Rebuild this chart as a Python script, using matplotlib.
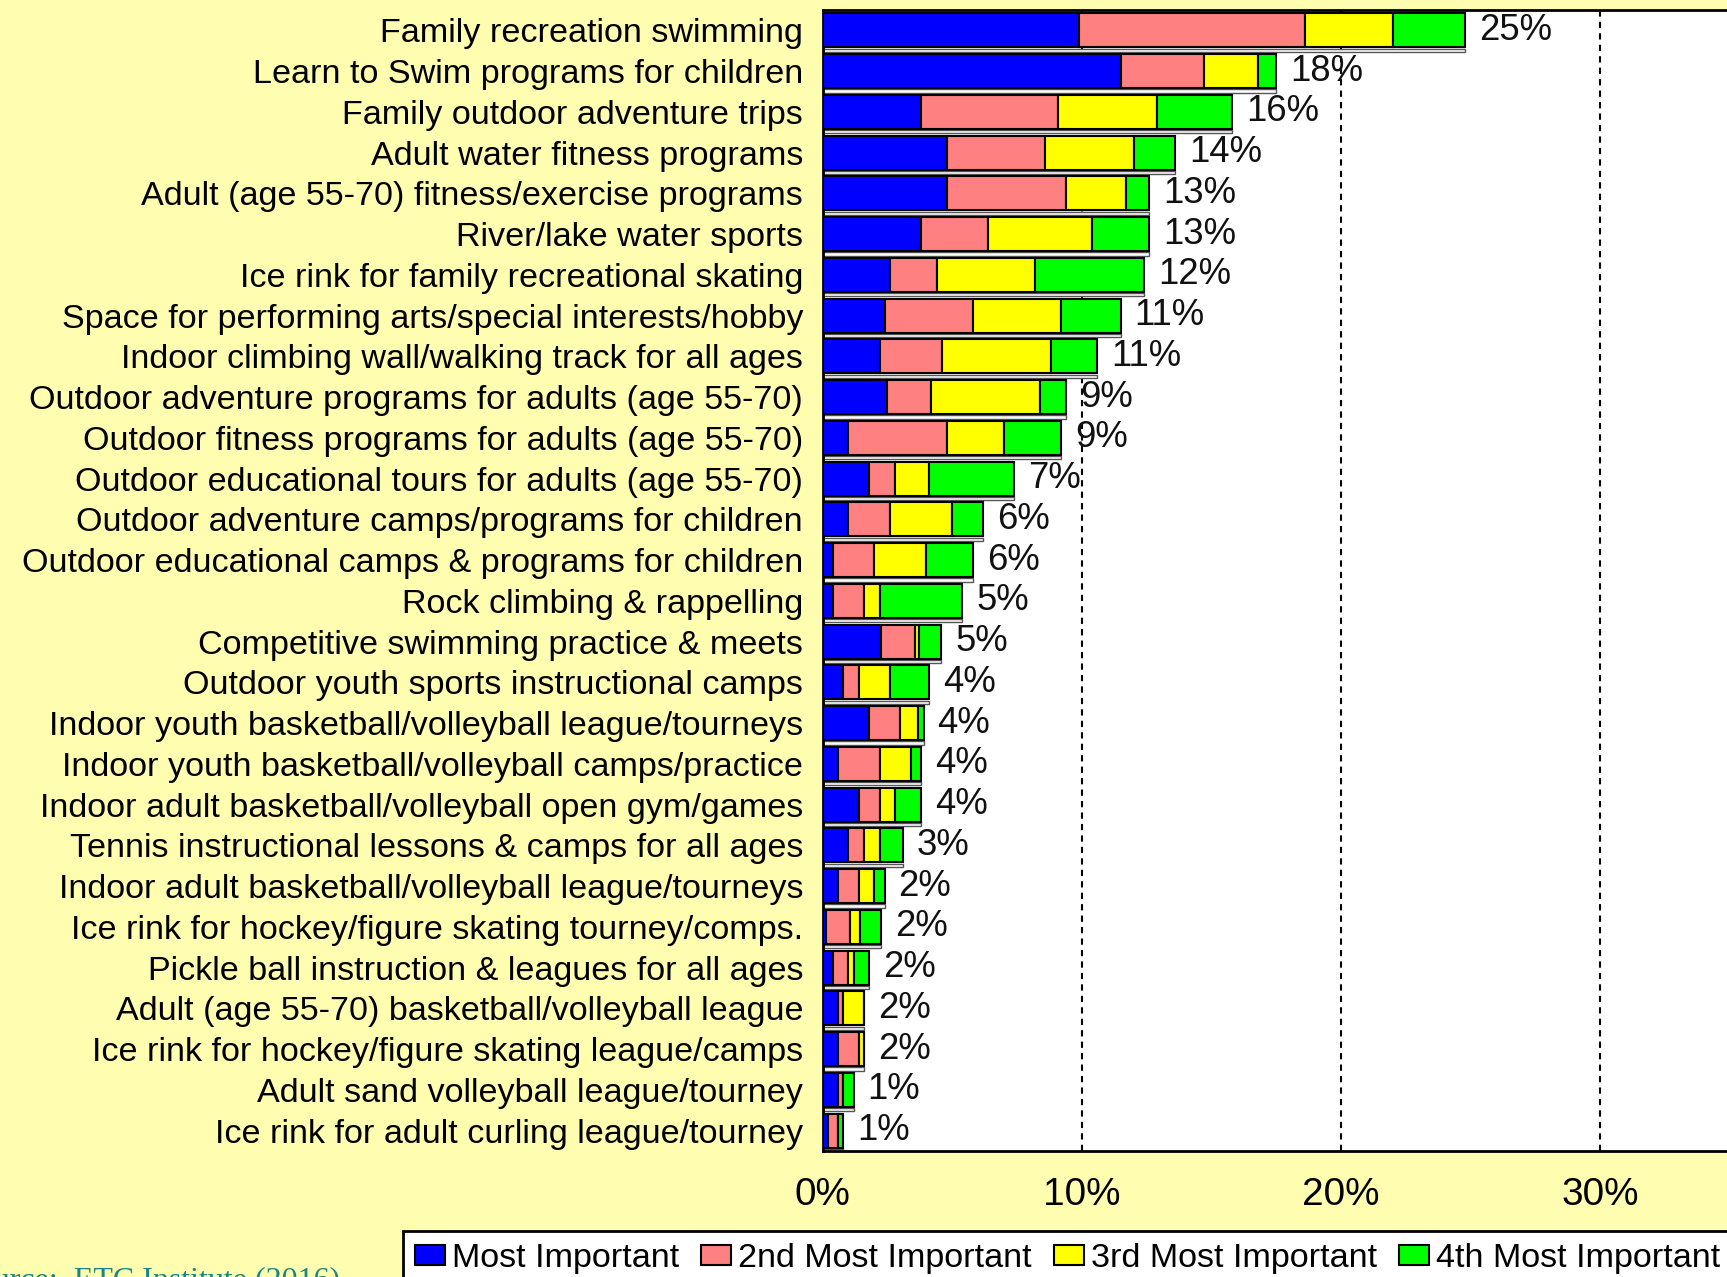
import numpy as np
import matplotlib
matplotlib.use("Agg")
import matplotlib.pyplot as plt
from matplotlib import font_manager
from matplotlib.patches import Patch

## survey chart: 4 stacked "importance" levels per program, percent of households

categories = [
    "Family recreation swimming",
    "Learn to Swim programs for children",
    "Family outdoor adventure trips",
    "Adult water fitness programs",
    "Adult (age 55-70) fitness/exercise programs",
    "River/lake water sports",
    "Ice rink for family recreational skating",
    "Space for performing arts/special interests/hobby",
    "Indoor climbing wall/walking track for all ages",
    "Outdoor adventure programs for adults (age 55-70)",
    "Outdoor fitness programs for adults (age 55-70)",
    "Outdoor educational tours for adults (age 55-70)",
    "Outdoor adventure camps/programs for children",
    "Outdoor educational camps & programs for children",
    "Rock climbing & rappelling",
    "Competitive swimming practice & meets",
    "Outdoor youth sports instructional camps",
    "Indoor youth basketball/volleyball league/tourneys",
    "Indoor youth basketball/volleyball camps/practice",
    "Indoor adult basketball/volleyball open gym/games",
    "Tennis instructional lessons & camps for all ages",
    "Indoor adult basketball/volleyball league/tourneys",
    "Ice rink for hockey/figure skating tourney/comps.",
    "Pickle ball instruction & leagues for all ages",
    "Adult (age 55-70) basketball/volleyball league",
    "Ice rink for hockey/figure skating league/camps",
    "Adult sand volleyball league/tourney",
    "Ice rink for adult curling league/tourney",
]

most = [9.9, 11.5, 3.8, 4.8, 4.8, 3.8, 2.6, 2.4, 2.2, 2.5, 1.0, 1.8, 1.0, 0.4,
        0.4, 2.25, 0.8, 1.8, 0.6, 1.4, 1.0, 0.6, 0.15, 0.4, 0.6, 0.6, 0.6, 0.2]
second = [8.7, 3.2, 5.3, 3.8, 4.6, 2.6, 1.8, 3.4, 2.4, 1.7, 3.8, 1.0, 1.6, 1.6,
          1.2, 1.3, 0.6, 1.2, 1.6, 0.8, 0.6, 0.8, 0.9, 0.6, 0.2, 0.8, 0.2, 0.4]
third = [3.4, 2.1, 3.8, 3.4, 2.3, 4.0, 3.8, 3.4, 4.2, 4.2, 2.2, 1.3, 2.4, 2.0,
         0.6, 0.17, 1.2, 0.7, 1.2, 0.6, 0.6, 0.6, 0.4, 0.2, 0.8, 0.2, 0.0, 0.0]
fourth = [2.8, 0.7, 2.9, 1.6, 0.9, 2.2, 4.2, 2.3, 1.8, 1.0, 2.2, 3.3, 1.2, 1.8,
          3.2, 0.86, 1.5, 0.2, 0.4, 1.0, 0.9, 0.4, 0.8, 0.6, 0.0, 0.0, 0.4, 0.2]

total_labels = ["25%", "18%", "16%", "14%", "13%", "13%", "12%", "11%", "11%",
                "9%", "9%", "7%", "6%", "6%", "5%", "5%", "4%", "4%", "4%", "4%",
                "3%", "2%", "2%", "2%", "2%", "2%", "1%", "1%"]

series_names = ["Most Important", "2nd Most Important", "3rd Most Important", "4th Most Important"]
series_colors = ["#0000FF", "#FF8080", "#FFFF00", "#00FF00"]
x_ticks = [0, 10, 20, 30]
x_ticklabels = ["0%", "10%", "20%", "30%"]

# narrow font if we have it, otherwise plain Liberation Sans a bit smaller
names = {f.name for f in font_manager.fontManager.ttflist}
if "Liberation Sans Narrow" in names:
    fam, k = "Liberation Sans Narrow", 1.0
else:
    fam, k = "Liberation Sans", 0.82
plt.rcParams["font.family"] = [fam, "DejaVu Sans"]

bg = "#FFFDB0"
fig = plt.figure(figsize=(17.27, 12.77), dpi=100, facecolor=bg)
ax = fig.add_axes([822.5 / 1727, 1 - 1151 / 1277, 0.53, (1151 - 10) / 1277])
ax.set_facecolor("white")

y = np.arange(len(categories))
data = [np.array(most), np.array(second), np.array(third), np.array(fourth)]
totals = sum(data)
bh = 0.84

# little white "shadow" strip under every bar
ax.barh(y + bh / 2 + 0.07, totals, height=0.08, color="white",
        edgecolor="#555555", linewidth=1, zorder=2)

left = np.zeros(len(categories))
for vals, col in zip(data, series_colors):
    ax.barh(y, vals, left=left, height=bh, color=col, edgecolor="black",
            linewidth=1.5, zorder=3)
    left += vals

for yi, t, lab in zip(y, totals, total_labels):
    ax.annotate(lab, (t, yi), xytext=(10, 0), textcoords="offset points",
                va="center", ha="left", fontsize=32 * k, color="#111111")

for g in x_ticks[1:]:
    ax.axvline(g, color="black", linestyle=(0, (3, 2.5)), linewidth=1.5, zorder=1)

ax.set_xlim(0, 0.53 * 1727 / 25.92)
ax.set_ylim(len(categories) - 0.5, -0.5)
ax.set_xticks(x_ticks)
ax.set_xticklabels(x_ticklabels, fontsize=34 * k)
ax.set_yticks(y)
ax.set_yticklabels(categories, fontsize=30 * k)
ax.tick_params(axis="y", length=0, pad=14)
ax.tick_params(axis="x", length=0, pad=19)

for side in ["left", "bottom", "top"]:
    ax.spines[side].set_linewidth(2)
    ax.spines[side].set_color("black")
ax.spines["right"].set_visible(False)

handles = [Patch(facecolor=c, edgecolor="black", linewidth=1.5) for c in series_colors]
leg = fig.legend(handles, series_names, loc="upper left",
                 bbox_to_anchor=(403 / 1727, 1 - 1231 / 1277), ncol=4,
                 fontsize=30 * k, handlelength=0.88, handleheight=0.55,
                 handletextpad=0.2, columnspacing=0.65, borderpad=0.35,
                 borderaxespad=0, fancybox=False, framealpha=1)
leg.get_frame().set_edgecolor("black")
leg.get_frame().set_linewidth(2)

fig.text(340 / 1727, 1 - 1288 / 1277, "Source:  ETC Institute (2016)",
         ha="right", va="baseline", fontsize=23, family="Liberation Serif",
         color="#1A8585")

fig.savefig("out.png", dpi=100, facecolor=bg)
